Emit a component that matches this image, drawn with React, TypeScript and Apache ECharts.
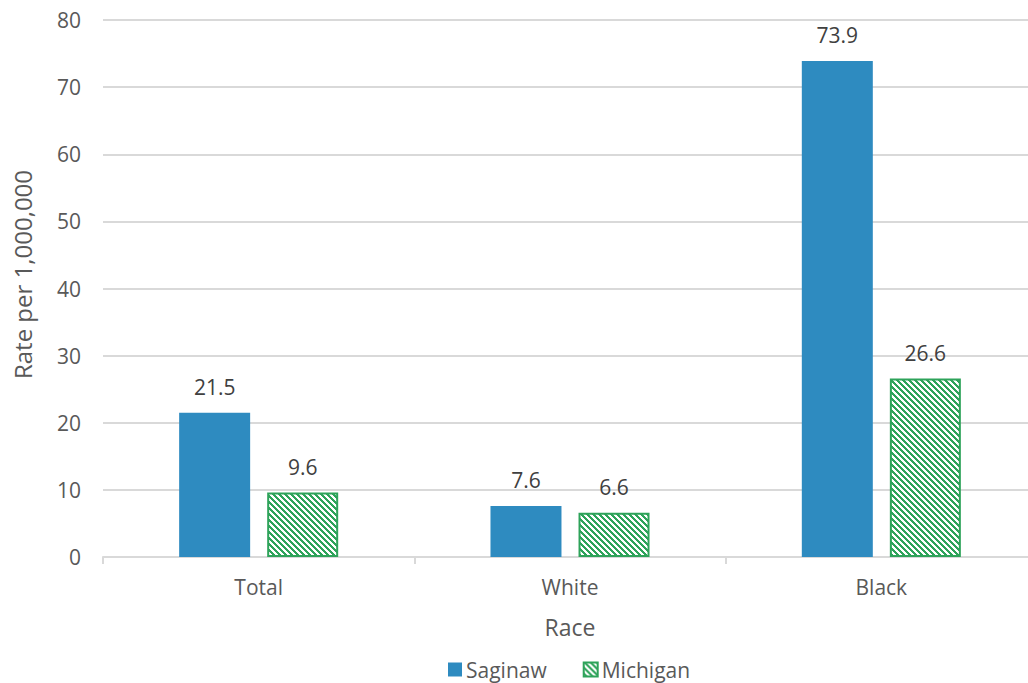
import React, { useEffect, useRef } from "react";
import * as echarts from "echarts";

const categories = ["Total", "White", "Black"];
const saginaw = [21.5, 7.6, 73.9];
const michigan = [9.6, 6.6, 26.6];
const yTicks = [0, 10, 20, 30, 40, 50, 60, 70, 80];

function makePattern(): HTMLCanvasElement {
  const c = document.createElement("canvas");
  const n = 6;
  c.width = n;
  c.height = n;
  const ctx = c.getContext("2d")!;
  ctx.fillStyle = "#ffffff";
  ctx.fillRect(0, 0, n, n);
  ctx.fillStyle = "#2ea35a";
  for (let y = 0; y < n; y++) {
    for (let x = 0; x < n; x++) {
      const d = (((x - y) % n) + n) % n;
      if (d < 3) ctx.fillRect(x, y, 1, 1);
    }
  }
  return c;
}

export default function App() {
  const ref = useRef<HTMLDivElement>(null);
  useEffect(() => {
    document.body.style.margin = "0";
    const chart = echarts.init(ref.current!, undefined, { renderer: "svg" });
    const pattern = makePattern();
    const font = "'Open Sans', 'Liberation Sans', sans-serif";
    chart.setOption({
      animation: false,
      textStyle: { fontFamily: font },
      grid: { left: 103, top: 20, width: 934, height: 537, containLabel: false },
      legend: {
        top: 654,
        left: 443,
        itemWidth: 14,
        itemHeight: 14,
        itemGap: 36,
        icon: "rect",
        textStyle: { fontSize: 21, color: "#595959", fontFamily: font, padding: [0, 0, 0, -1] },
        data: ["Saginaw", "Michigan"],
      },
      xAxis: {
        type: "category",
        data: categories,
        name: "Race",
        nameLocation: "middle",
        nameGap: 58,
        nameTextStyle: { fontSize: 23, color: "#595959", fontFamily: font },
        axisLine: { show: true, lineStyle: { color: "#d9d9d9", width: 2 } },
        axisTick: { show: true, length: 7, lineStyle: { color: "#d9d9d9", width: 2 } },
        axisLabel: { fontSize: 21, color: "#595959", margin: 19, fontFamily: font },
      },
      yAxis: {
        type: "value",
        min: yTicks[0],
        max: yTicks[yTicks.length - 1],
        interval: 10,
        name: "Rate per 1,000,000",
        nameLocation: "middle",
        nameGap: 69,
        nameRotate: 90,
        nameTextStyle: {
          fontSize: 24,
          color: "#595959",
          fontFamily: font,
          padding: [0, 0, 0, 28],
        },
        axisLine: { show: false },
        axisTick: { show: false },
        splitLine: { lineStyle: { color: "#d9d9d9", width: 2 } },
        axisLabel: { fontSize: 21, color: "#595959", margin: 22, fontFamily: font },
      },
      series: [
        {
          name: "Saginaw",
          type: "bar",
          data: saginaw,
          barWidth: 71,
          barGap: "24%",
          itemStyle: { color: "#2e8bc0" },
          label: {
            show: true,
            position: "top",
            distance: 15,
            fontSize: 21,
            color: "#404040",
            fontFamily: font,
          },
        },
        {
          name: "Michigan",
          type: "bar",
          data: michigan,
          barWidth: 71,
          itemStyle: {
            color: { image: pattern, repeat: "repeat" },
            borderColor: "#2ea35a",
            borderWidth: 2,
          },
          label: {
            show: true,
            position: "top",
            distance: 15,
            fontSize: 21,
            color: "#404040",
            fontFamily: font,
          },
        },
      ],
    });
    return () => chart.dispose();
  }, []);
  return (
    <div style={{ width: 1028, height: 683, overflow: "hidden", position: "relative" }}>
      <div ref={ref} style={{ width: 1044, height: 683 }} />
    </div>
  );
}
